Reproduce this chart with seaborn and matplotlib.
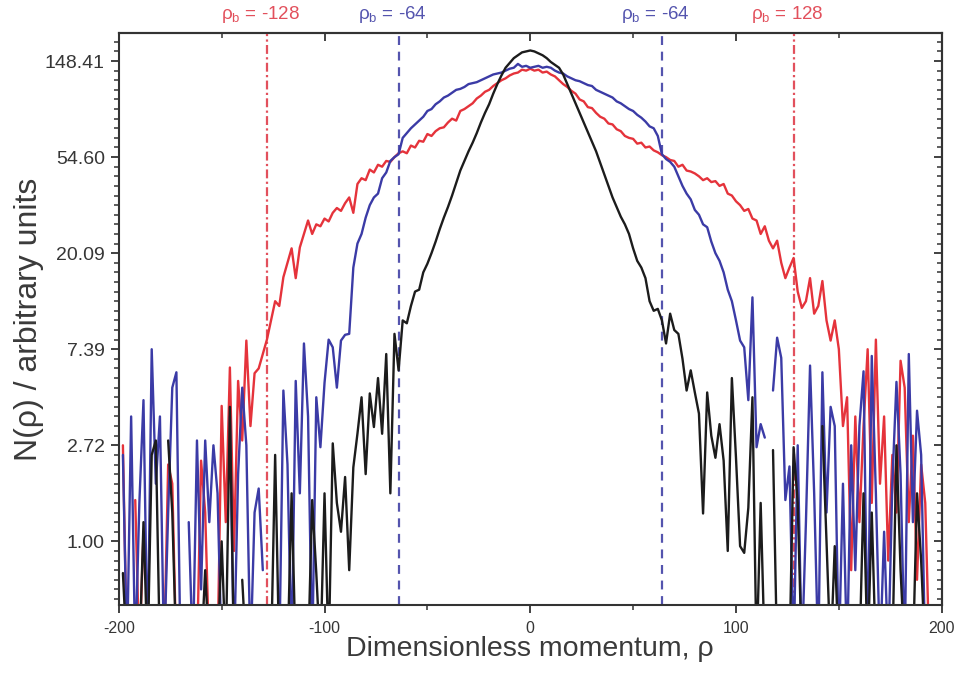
import numpy as np
import pandas as pd
import matplotlib
matplotlib.use("Agg")
import matplotlib.pyplot as plt
import matplotlib.transforms as mtransforms
from matplotlib.ticker import MultipleLocator
import seaborn as sns

nan = np.nan

# sampling grid of the dimensionless momentum
rho = np.arange(-198, 199, 2)

# ln N(rho) (values below -0.67 lie under the axis, nan = empty bin)
red_lnN = [
    1.0, -1.2, nan, 0.43, -1.2, 0.1, nan, nan, -1.2, nan,
    -1.2, 0.8, 0.6, -1.2, nan, nan, -1.2, nan, -1.2, 0.84,
    0.3, -1.2, nan, -1.2, 1.41, 0.2, 1.81, -0.1, 1.67, 1.05,
    2.09, 1.2, 1.75, 1.8, 1.95, 2.1, 2.3, 2.5, 2.45, 2.75,
    2.9, 3.05, 2.74, 3.06, 3.2, 3.34, 3.2, 3.3, 3.28, 3.36,
    3.33, 3.42, 3.47, 3.44, 3.52, 3.58, 3.42, 3.72, 3.78, 3.76,
    3.87, 3.84, 3.92, 3.9, 3.96, 3.95, 4.0, 4.04, 4.06, 4.04,
    4.12, 4.1, 4.17, 4.16, 4.24, 4.22, 4.27, 4.3, 4.31, 4.36,
    4.4, 4.38, 4.48, 4.5, 4.53, 4.56, 4.61, 4.64, 4.68, 4.7,
    4.74, 4.77, 4.8, 4.82, 4.85, 4.87, 4.88, 4.91, 4.9, 4.92,
    4.9, 4.91, 4.88, 4.89, 4.86, 4.84, 4.8, 4.76, 4.73, 4.69,
    4.66, 4.6, 4.58, 4.52, 4.51, 4.46, 4.42, 4.4, 4.35, 4.34,
    4.29, 4.27, 4.22, 4.2, 4.19, 4.14, 4.15, 4.1, 4.11, 4.07,
    4.05, 4.02, 4.0, 3.97, 3.96, 3.9, 3.92, 3.86, 3.85, 3.83,
    3.8, 3.76, 3.78, 3.74, 3.75, 3.7, 3.72, 3.62, 3.6, 3.54,
    3.5, 3.44, 3.46, 3.36, 3.34, 3.2, 3.28, 3.13, 3.05, 3.13,
    2.9, 2.74, 2.85, 2.95, 2.6, 2.43, 2.5, 2.74, 2.37, 2.45,
    2.71, 2.3, 2.09, 2.3, 2.0, 1.2, 1.5, -0.3, 1.3, 0.2,
    1.2, 2.0, 0.4, 2.1, 0.6, 1.3, -0.2, 0.9, 0.3, 1.88,
    1.6, 0.2, 1.1, -0.4, 0.8, 0.4, -1.2, nan, nan,
]

blue_lnN = [
    0.9, -1.2, 1.3, -1.2, 0.4, 1.47, -1.2, 2.0, 0.6, 1.3,
    -1.2, 0.3, 1.6, 1.76, -1.2, nan, 0.2, -1.2, 1.05, -0.5,
    1.05, 0.2, 1.0, 0.5, -1.2, nan, 1.3, -1.2, 0.7, 1.6,
    1.0, -1.2, 0.3, 0.55, -0.3, nan, -1.2, nan, -1.2, 1.57,
    0.8, -1.2, 1.67, 0.5, 2.06, 1.3, -1.2, 1.5, 0.98, 1.65,
    2.1, 2.02, 1.6, 2.09, 2.15, 2.16, 2.85, 3.1, 3.2, 3.37,
    3.5, 3.58, 3.62, 3.78, 3.84, 3.96, 4.0, 4.03, 4.2, 4.25,
    4.3, 4.34, 4.38, 4.42, 4.48, 4.5, 4.55, 4.58, 4.62, 4.64,
    4.67, 4.7, 4.71, 4.73, 4.76, 4.77, 4.78, 4.8, 4.82, 4.84,
    4.86, 4.87, 4.88, 4.9, 4.92, 4.93, 4.97, 4.94, 4.95, 4.93,
    4.94, 4.95, 4.93, 4.94, 4.93, 4.9, 4.88, 4.87, 4.84, 4.82,
    4.8, 4.79, 4.77, 4.75, 4.74, 4.7, 4.68, 4.66, 4.64, 4.62,
    4.58, 4.56, 4.53, 4.5, 4.48, 4.44, 4.41, 4.37, 4.32, 4.3,
    4.22, 4.03, 3.98, 3.95, 3.9, 3.8, 3.7, 3.62, 3.56, 3.45,
    3.4, 3.3, 3.27, 3.12, 3.0, 2.92, 2.8, 2.62, 2.5, 2.3,
    2.09, 2.02, 1.47, 2.54, 0.98, 1.22, 1.08, nan, 1.57, 2.12,
    1.91, 0.43, 0.78, -1.2, 1.0, -1.2, 0.2, 1.83, 0.5, -1.2,
    1.76, 0.3, 1.4, 1.2, -1.2, 0.6, -1.2, 1.0, -0.3, 1.2,
    1.77, -1.2, 1.93, 0.5, -1.2, 0.1, -1.2, 0.6, 1.66, 0.7,
    -1.2, 1.95, 0.2, 1.36, 0.9, -1.2, nan, nan, nan,
]

black_lnN = [
    -0.33, -1.2, nan, nan, -1.2, 0.2, -1.2, 0.9, 1.05, -1.2,
    nan, 1.05, 0.3, -1.2, nan, nan, nan, -1.2, nan, -1.2,
    -0.3, -1.2, nan, -1.2, 0.0, -1.2, 1.4, -1.2, nan, -0.4,
    -1.2, nan, nan, nan, -1.2, nan, -1.2, 0.9, -1.2, nan,
    -1.2, 0.5, -1.2, nan, nan, -1.2, 0.43, -0.33, -1.2, 0.5,
    -1.2, 1.02, 0.4, 0.1, 0.67, -0.3, 0.77, 1.12, 1.5, 0.7,
    1.54, 1.19, 1.7, 1.12, 1.95, 0.5, 2.16, 1.78, 2.3, 2.27,
    2.45, 2.6, 2.62, 2.8, 2.89, 3.0, 3.12, 3.25, 3.37, 3.48,
    3.6, 3.73, 3.86, 3.96, 4.06, 4.15, 4.25, 4.36, 4.46, 4.55,
    4.66, 4.76, 4.85, 4.93, 4.98, 5.03, 5.06, 5.09, 5.1, 5.11,
    5.1, 5.08, 5.06, 5.03, 4.99, 4.96, 4.93, 4.86, 4.76, 4.66,
    4.56, 4.46, 4.36, 4.26, 4.16, 4.06, 3.94, 3.82, 3.7, 3.58,
    3.48, 3.38, 3.3, 3.2, 3.05, 2.92, 2.85, 2.74, 2.5, 2.4,
    2.42, 2.3, 2.06, 2.37, 2.2, 2.16, 1.9, 1.57, 1.78, 1.55,
    1.33, 0.29, 1.55, 1.1, 0.87, 1.22, 0.84, -0.1, 1.7, 0.87,
    -0.05, -0.12, 0.35, 1.5, -1.2, 0.4, -1.2, nan, 0.95, -1.2,
    nan, nan, -1.2, 0.98, 0.4, -1.2, nan, nan, -1.2, nan,
    1.2, 0.0, -1.2, -0.05, -1.2, nan, nan, -1.2, nan, -1.2,
    0.5, -1.2, 0.3, -1.2, nan, -1.2, nan, -1.2, 1.0, -0.3,
    -1.2, nan, -1.2, 0.5, -0.2, -1.2, nan, nan, nan,
]

series_names = ["red", "blue", "black"]
series_colors = {"red": "#e5333b", "blue": "#3b3ba6", "black": "#1c1c1c"}

y_tick_ln = [0, 1, 2, 3, 4, 5]
y_tick_labels = ["1.00", "2.72", "7.39", "20.09", "54.60", "148.41"]
x_ticks = [-200, -100, 0, 100, 200]
x_tick_labels = ["-200", "-100", "0", "100", "200"]

boundary_rho = [-128, -64, 64, 128]
boundary_labels = [r"ρ$_\mathrm{b}$ = -128", r"ρ$_\mathrm{b}$ = -64",
                   r"ρ$_\mathrm{b}$ = -64", r"ρ$_\mathrm{b}$ = 128"]
boundary_colors = ["#e2505c", "#5454ae", "#5454ae", "#e2505c"]
boundary_styles = [(0, (4, 1.5, 1, 1.5)), (0, (4, 3)), (0, (4, 3)), (0, (4, 1.5, 1, 1.5))]

# ---- long-form table, split into connected segments at empty bins ----
frames = []
for name, vals in zip(series_names, [red_lnN, blue_lnN, black_lnN]):
    v = np.asarray(vals, dtype=float)
    assert len(v) == len(rho), (name, len(v))
    seg = np.cumsum(np.isnan(v))
    d = pd.DataFrame({"rho": rho, "lnN": v, "series": name, "segment": seg})
    frames.append(d[~np.isnan(v)])
df = pd.concat(frames, ignore_index=True)

sns.set_style("ticks")
plt.rcParams["font.family"] = ["Liberation Sans", "DejaVu Sans"]
plt.rcParams["mathtext.fontset"] = "custom"
plt.rcParams["mathtext.rm"] = "Liberation Sans"
plt.rcParams["mathtext.it"] = "Liberation Sans:italic"
plt.rcParams["mathtext.bf"] = "Liberation Sans:bold"

fig = plt.figure(figsize=(9.58, 6.77), dpi=100)
ax = fig.add_axes([0.124, 0.106, 0.859, 0.845])

for xb, col, ls in zip(boundary_rho, boundary_colors, boundary_styles):
    ax.axvline(xb, color=col, linestyle=ls, linewidth=1.6, zorder=1)

sns.lineplot(data=df, x="rho", y="lnN", hue="series", units="segment",
             estimator=None, hue_order=series_names, palette=series_colors,
             legend=False, linewidth=1.7, ax=ax, zorder=2)

ax.set_xlim(-200, 200)
ax.set_ylim(-0.665, 5.29)
ax.set_xticks(x_ticks)
ax.set_xticklabels(x_tick_labels)
ax.set_yticks(y_tick_ln)
ax.set_yticklabels(y_tick_labels)
ax.xaxis.set_minor_locator(MultipleLocator(50))
ax.yaxis.set_minor_locator(MultipleLocator(0.1))

text_col = "#363636"
ax.tick_params(axis="both", which="major", direction="out", length=6, width=1.3,
               colors="#333333", labelcolor=text_col)
ax.tick_params(axis="both", which="minor", direction="out", length=3.5, width=1.1,
               colors="#333333")
ax.tick_params(axis="x", labelsize=11.5, pad=5)
ax.tick_params(axis="y", labelsize=14, pad=4)

for sp in ax.spines.values():
    sp.set_visible(True)
    sp.set_linewidth(1.5)
    sp.set_color("#333333")

# mirrored axes with inward ticks
top = ax.secondary_xaxis("top")
top.set_xticks(x_ticks)
top.set_xticklabels([])
top.xaxis.set_minor_locator(MultipleLocator(50))
top.tick_params(which="major", direction="in", length=6, width=1.3, colors="#333333")
top.tick_params(which="minor", direction="in", length=3.5, width=1.1, colors="#333333")
right = ax.secondary_yaxis("right")
right.set_yticks(y_tick_ln)
right.set_yticklabels([])
right.yaxis.set_minor_locator(MultipleLocator(0.1))
right.tick_params(which="major", direction="in", length=6, width=1.3, colors="#333333")
right.tick_params(which="minor", direction="in", length=3.5, width=1.1, colors="#333333")
for s in (top, right):
    for sp in s.spines.values():
        sp.set_linewidth(1.5)
        sp.set_color("#333333")

ax.set_xlabel("Dimensionless momentum, ρ", fontsize=20.5, color="#3a3a3a", labelpad=0)
ax.set_ylabel("N(ρ) / arbitrary units", fontsize=23, color="#3a3a3a", labelpad=1)

trans = mtransforms.blended_transform_factory(ax.transData, ax.transAxes)
for xb, lab, col in zip(boundary_rho, boundary_labels, boundary_colors):
    ax.text(xb - 3, 1.014, lab, transform=trans, ha="center", va="bottom",
            fontsize=13.5, color=col)

fig.savefig("out.png", dpi=100, facecolor="white")
